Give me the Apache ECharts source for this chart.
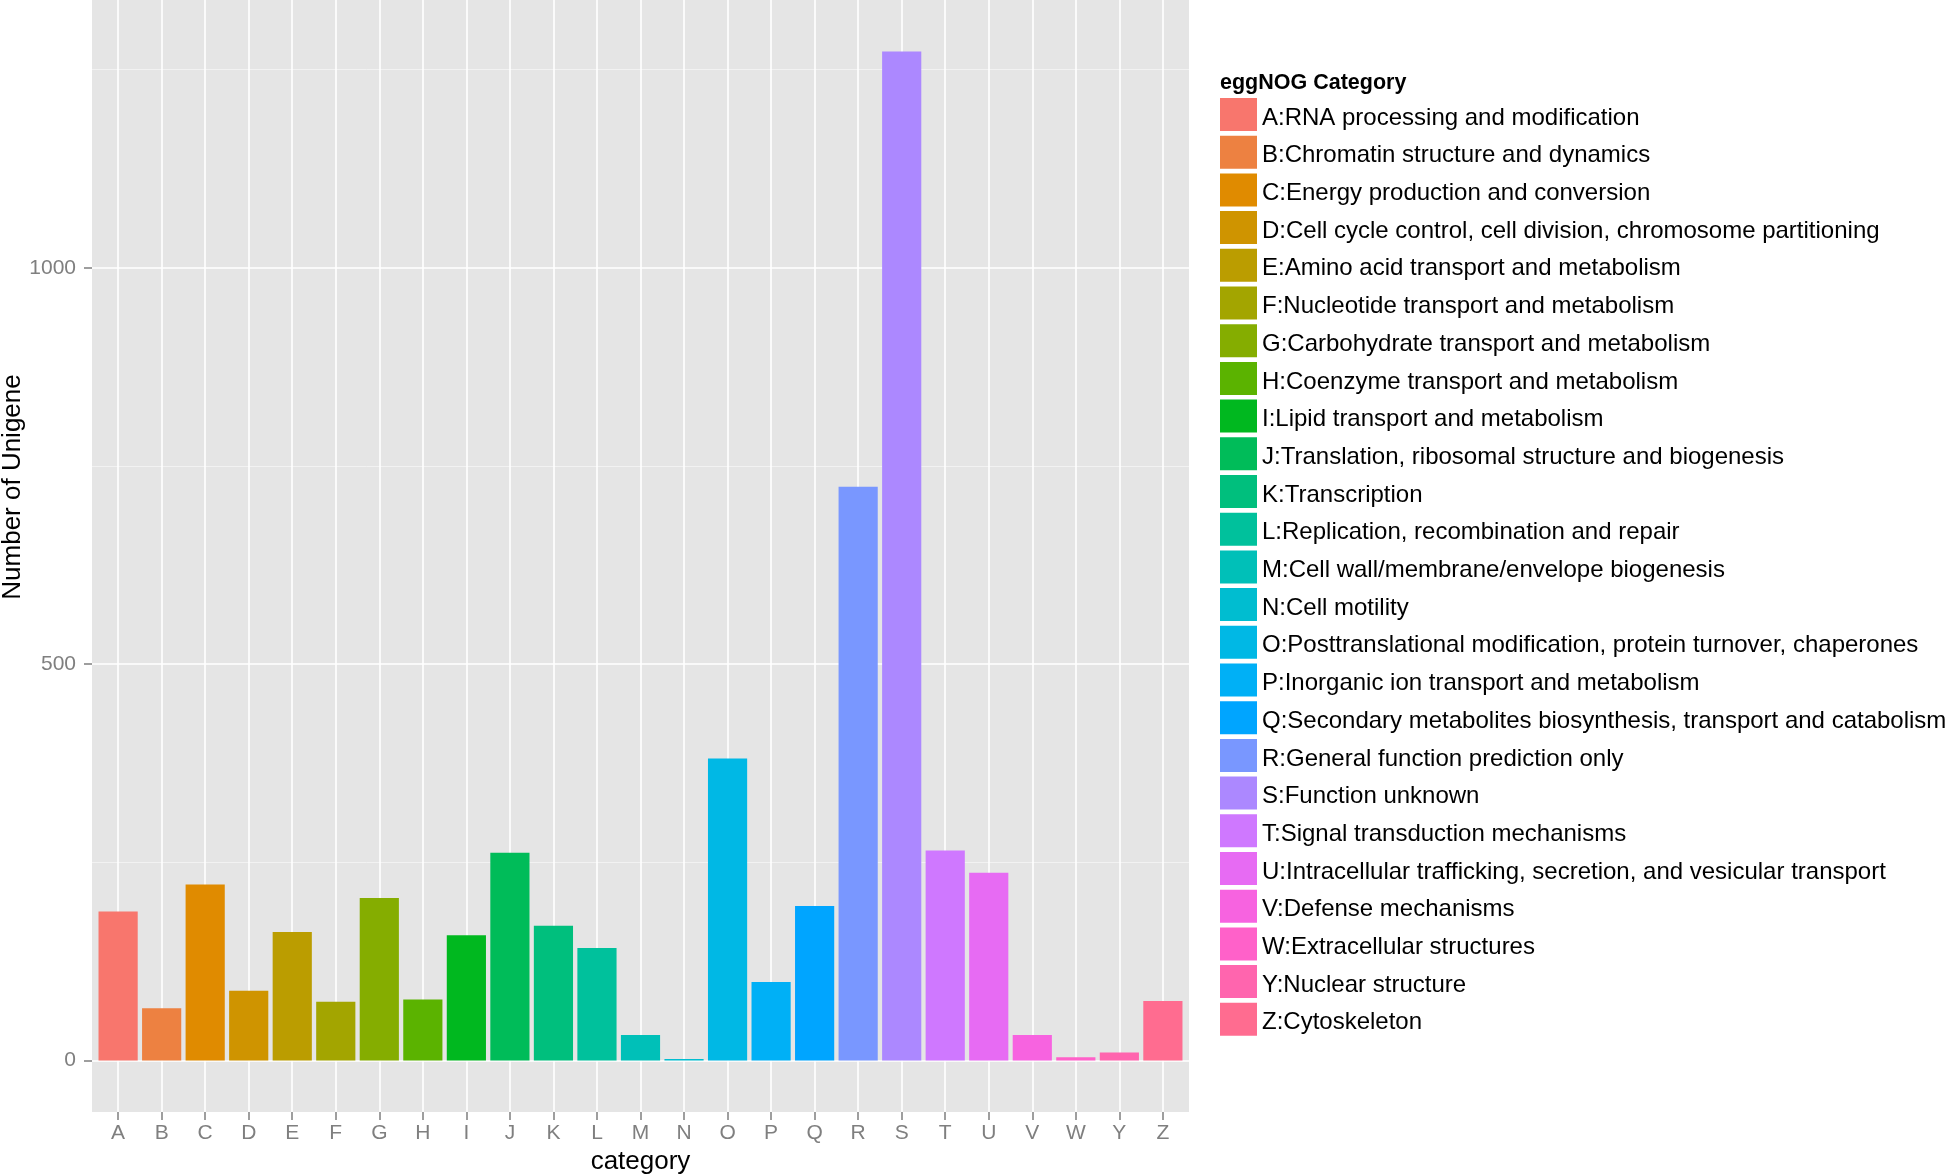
<!DOCTYPE html>
<html>
<head>
<meta charset="utf-8">
<script src="https://cdn.jsdelivr.net/npm/echarts@6/dist/echarts.min.js"></script>
<style>
html, body { margin: 0; padding: 0; background: #fff; }
#chart { width: 1946px; height: 1176px; }
</style>
</head>
<body>
<div id="chart"></div>
<script>
// ---- data ----
const categories = ['A','B','C','D','E','F','G','H','I','J','K','L','M','N','O','P','Q','R','S','T','U','V','W','Y','Z'];
const legendLabels = [
  'A:RNA processing and modification',
  'B:Chromatin structure and dynamics',
  'C:Energy production and conversion',
  'D:Cell cycle control, cell division, chromosome partitioning',
  'E:Amino acid transport and metabolism',
  'F:Nucleotide transport and metabolism',
  'G:Carbohydrate transport and metabolism',
  'H:Coenzyme transport and metabolism',
  'I:Lipid transport and metabolism',
  'J:Translation, ribosomal structure and biogenesis',
  'K:Transcription',
  'L:Replication, recombination and repair',
  'M:Cell wall/membrane/envelope biogenesis',
  'N:Cell motility',
  'O:Posttranslational modification, protein turnover, chaperones',
  'P:Inorganic ion transport and metabolism',
  'Q:Secondary metabolites biosynthesis, transport and catabolism',
  'R:General function prediction only',
  'S:Function unknown',
  'T:Signal transduction mechanisms',
  'U:Intracellular trafficking, secretion, and vesicular transport',
  'V:Defense mechanisms',
  'W:Extracellular structures',
  'Y:Nuclear structure',
  'Z:Cytoskeleton'
];
const unigeneCounts = [188, 66, 222, 88, 162, 74, 205, 77, 158, 262, 170, 142, 32, 2, 381, 99, 195, 724, 1273, 265, 237, 32, 4, 10, 75];
const yTickValues = [0, 500, 1000];
const legendTitle = 'eggNOG Category';
const xTitle = 'category';
const yTitle = 'Number of Unigene';

// ---- ggplot2 default hue palette (HCL, c=100, l=65) ----
function hclToHex(h, c, l) {
  const WX = 95.047, WY = 100.0, WZ = 108.883;
  const hr = h * Math.PI / 180;
  const U = c * Math.cos(hr), V = c * Math.sin(hr);
  const Y = WY * (l > 7.999592 ? Math.pow((l + 16) / 116, 3) : l / 903.3);
  const den = WX + 15 * WY + 3 * WZ;
  const uN = 4 * WX / den, vN = 9 * WY / den;
  const u = U / (13 * l) + uN, v = V / (13 * l) + vN;
  const X = 9.0 * Y * u / (4 * v);
  const Z = -X / 3 - 5 * Y + 3 * Y / v;
  const x = X / WY, y = Y / WY, z = Z / WY;
  const lin = [
    3.240479 * x - 1.537150 * y - 0.498535 * z,
    -0.969256 * x + 1.875992 * y + 0.041556 * z,
    0.055648 * x - 0.204043 * y + 1.057311 * z
  ];
  return '#' + lin.map(function (t) {
    let g = t > 0.00304 ? 1.055 * Math.pow(t, 1 / 2.4) - 0.055 : 12.92 * t;
    g = Math.max(0, Math.min(1, g));
    const s = Math.round(255 * g).toString(16);
    return s.length < 2 ? '0' + s : s;
  }).join('');
}
const n = categories.length;
const palette = categories.map(function (_, i) { return hclToHex(15 + i * 360 / n, 100, 65); });

const FONT = 'Liberation Sans, Arial, Helvetica, sans-serif';
const Y_MIN = -65, Y_MAX = 1338;

const series = categories.map(function (cat, i) {
  return {
    name: legendLabels[i],
    type: 'bar',
    xAxisIndex: 1,
    yAxisIndex: 1,
    stack: 'all',
    barWidth: '90%',
    itemStyle: { color: palette[i] },
    emphasis: { disabled: true },
    data: categories.map(function (_, j) { return j === i ? unigeneCounts[i] : '-'; })
  };
});

const chart = echarts.init(document.getElementById('chart'), null, { renderer: 'canvas' });
chart.setOption({
  animation: false,
  backgroundColor: '#ffffff',
  textStyle: { fontFamily: FONT },
  title: {
    text: legendTitle,
    left: 1220,
    top: 72,
    padding: 0,
    textStyle: { fontFamily: FONT, fontSize: 21.5, fontWeight: 'bold', color: '#000' }
  },
  legend: {
    orient: 'vertical',
    left: 1220,
    top: 98,
    padding: 0,
    itemWidth: 37,
    itemHeight: 33,
    itemGap: 4.7,
    icon: 'rect',
    selectedMode: false,
    formatter: '{t|{name}}',
    textStyle: {
      fontFamily: FONT, fontSize: 24, color: '#000',
      rich: { t: { fontFamily: FONT, fontSize: 24, color: '#000', padding: [7, 0, 0, 0] } }
    },
    data: legendLabels
  },
  grid: [
    { left: 92, top: 0, width: 1097, height: 1112, show: true, backgroundColor: '#E5E5E5', borderWidth: 0, outerBoundsMode: 'none', containLabel: false },
    { left: 96.35, top: 0, width: 1088.3, height: 1112, show: false, outerBoundsMode: 'none', containLabel: false }
  ],
  xAxis: [
    { type: 'value', gridIndex: 0, show: false, min: 0, max: 1 },
    {
      type: 'category',
      gridIndex: 1,
      data: categories,
      axisLine: { show: false, onZero: false },
      axisTick: { show: true, alignWithLabel: true, interval: 0, length: 8, lineStyle: { color: '#7F7F7F', width: 1.5 } },
      axisLabel: { interval: 0, fontSize: 21, color: '#7F7F7F', margin: 11, fontFamily: FONT },
      splitLine: { show: true, interval: 0, alignWithLabel: true, lineStyle: { color: '#ffffff', width: 1.6 } },
      name: xTitle,
      nameLocation: 'middle',
      nameGap: 35,
      nameTextStyle: { fontSize: 26, color: '#000', fontFamily: FONT }
    }
  ],
  yAxis: [
    {
      type: 'value',
      gridIndex: 0,
      min: Y_MIN,
      max: Y_MAX,
      splitNumber: 3,
      axisLine: { show: false, onZero: false },
      axisTick: { show: true, length: 8, customValues: yTickValues, lineStyle: { color: '#7F7F7F', width: 1.5 } },
      axisLabel: {
        fontSize: 21, color: '#7F7F7F', margin: 16, customValues: yTickValues, fontFamily: FONT,
        formatter: function (v) { return String(v); }
      },
      splitLine: { show: true, lineStyle: { color: '#ffffff', width: 1.6 } },
      minorTick: { show: false, splitNumber: 2 },
      minorSplitLine: { show: true, lineStyle: { color: '#F2F2F2', width: 1 } }
    },
    { type: 'value', gridIndex: 1, show: false, min: Y_MIN, max: Y_MAX, splitLine: { show: false } }
  ],
  graphic: [
    {
      type: 'text',
      x: 13,
      y: 487,
      rotation: Math.PI / 2,
      style: { text: yTitle, fontSize: 26, fontFamily: FONT, fill: '#000', textAlign: 'center', textVerticalAlign: 'middle' }
    }
  ],
  series: series
});
</script>
</body>
</html>
